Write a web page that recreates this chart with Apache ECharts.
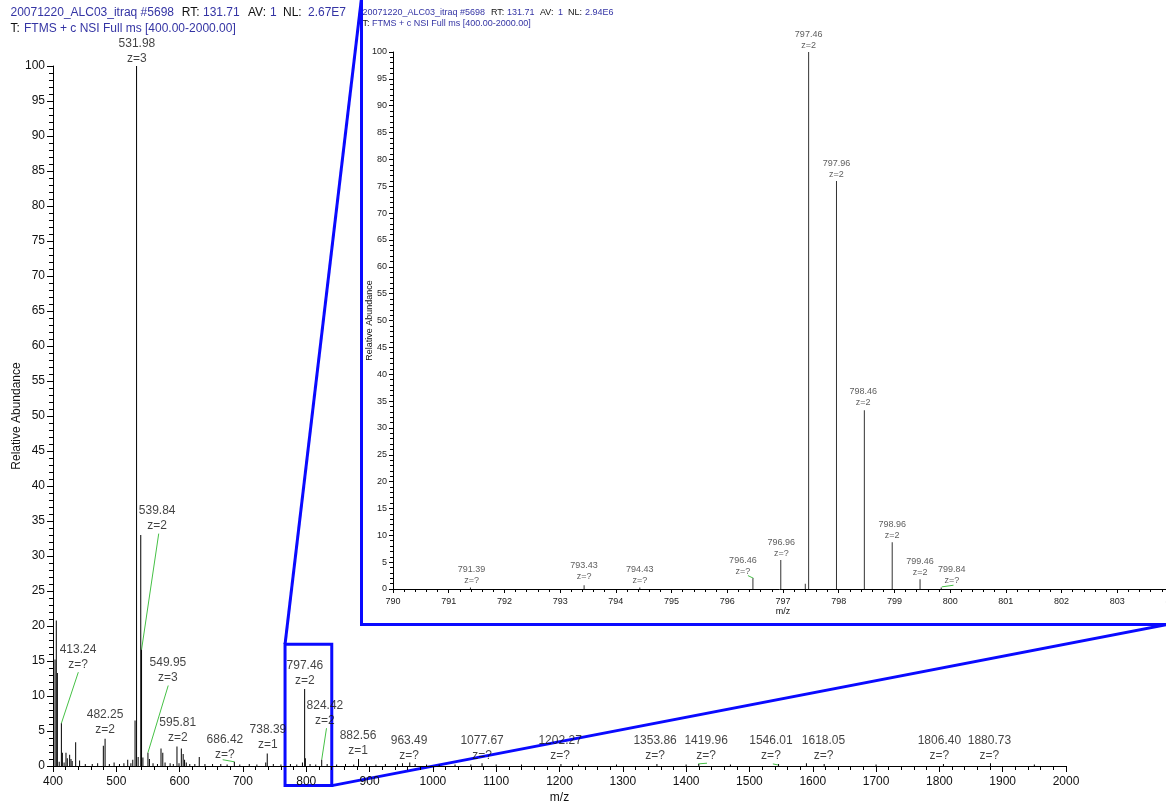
<!DOCTYPE html>
<html>
<head>
<meta charset="utf-8">
<script src="https://cdn.jsdelivr.net/npm/echarts@6/dist/echarts.min.js"></script>
<style>
  html, body { margin: 0; padding: 0; background: #fff; }
  #chart { width: 1166px; height: 806px; }
</style>
</head>
<body>
<div id="chart"></div>
<script>
// full scan peaks (m/z, relative abundance)
const mainMz = [403.2, 405.2, 406.9, 409.8, 413.24, 414.8, 417.5, 420.5, 422.6, 426.3, 428.4, 430.3, 435.8, 442.0,
  451.0, 462.0, 470.5, 479.5, 482.25, 489.0, 496.5, 505.0, 512.0, 518.0, 523.0, 526.0, 529.6, 531.98, 534.5,
  538.6, 539.84, 542.0, 549.95, 552.3, 558.0, 565.0, 570.6, 573.4, 577.0, 585.0, 590.0, 595.81, 599.0, 602.7,
  605.6, 607.8, 610.5, 616.0, 624.0, 631.0, 640.0, 652.0, 665.0, 675.0, 686.42, 695.0, 710.0, 722.0, 736.0,
  738.39, 748.0, 760.0, 775.0, 785.0, 794.0, 797.46, 798.6, 806.0, 815.0, 824.42, 833.0, 848.0, 862.0, 875.0,
  882.56, 895.0, 910.0, 925.0, 944.0, 952.0, 963.49, 972.0, 990.0, 1010.0, 1035.0, 1060.0, 1077.67, 1100.0,
  1140.0, 1202.27, 1230.0, 1290.0, 1353.86, 1400.0, 1419.96, 1470.0, 1546.01, 1590.0, 1618.05, 1700.0,
  1806.40, 1880.73, 1950.0];
const mainAb = [15.2, 20.8, 13.3, 0.6, 6.1, 1.9, 0.5, 1.9, 1.1, 1.6, 1.0, 0.7, 3.4, 0.8,
  0.3, 0.3, 0.4, 2.9, 3.9, 0.3, 0.5, 0.3, 0.4, 0.9, 0.4, 0.9, 6.5, 100, 1.3,
  33.0, 16.6, 1.2, 1.9, 1.0, 0.4, 0.3, 2.5, 1.9, 0.5, 0.4, 0.3, 2.8, 0.4, 2.5,
  1.7, 0.9, 0.5, 0.3, 0.3, 1.3, 0.3, 0.3, 0.3, 0.2, 0.6, 0.2, 0.3, 0.2, 0.5,
  1.8, 0.3, 0.2, 0.3, 0.2, 0.5, 11.0, 1.1, 0.3, 0.2, 0.9, 0.3, 0.2, 0.3, 0.2,
  1.0, 0.3, 0.2, 0.3, 0.3, 0.4, 0.5, 0.3, 0.2, 0.2, 0.2, 0.2, 0.4, 0.2,
  0.2, 0.3, 0.2, 0.2, 0.3, 0.2, 0.3, 0.2, 0.3, 0.4, 0.3, 0.2,
  0.3, 0.4, 0.2];

// full scan annotations
const mainLabelMz = ['531.98', '539.84', '413.24', '482.25', '549.95', '595.81', '686.42', '738.39', '797.46',
  '824.42', '882.56', '963.49', '1077.67', '1202.27', '1353.86', '1419.96', '1546.01', '1618.05', '1806.40', '1880.73'];
const mainLabelZ = ['3', '2', '?', '2', '3', '2', '?', '1', '2', '2', '1', '?', '?', '?', '?', '?', '?', '?', '?', '?'];
const mainLabelAtX = [532.5, 564.5, 439.5, 482.25, 581.5, 597.0, 671.5, 739.5, 797.9, 829.5, 881.8, 962.4, 1077.7,
  1201.0, 1351.0, 1431.6, 1534.0, 1617.0, 1800.0, 1879.0];
const mainLabelAtY = [99.9, 33.2, 13.4, 4.0, 11.5, 2.9, 0.45, 1.9, 11.0, 5.4, 1.05, 0.4, 0.4, 0.4, 0.3, 0.3, 0.3,
  0.3, 0.3, 0.3];
// leader lines: from label to peak
const mainLeaderFrom = [[440, 13.4], [567, 33.2], [582, 11.5], [668, 0.9], [832, 5.4], [1419, 0.3], [1537, 0.3]];
const mainLeaderTo = [[413.24, 6.1], [539.84, 16.6], [549.95, 1.9], [686.42, 0.6], [824.42, 0.9], [1433, 0.4], [1545, 0.15]];

// zoomed scan peaks
const zoomMz = [791.39, 793.43, 794.43, 796.46, 796.96, 797.40, 797.46, 797.96, 798.46, 798.96, 799.46, 799.84];
const zoomAb = [0.3, 0.7, 0.3, 2.0, 5.4, 1.0, 100, 76.0, 33.3, 8.7, 1.8, 0.3];
const zoomLabelMz = ['791.39', '793.43', '794.43', '796.46', '796.96', '797.46', '797.96', '798.46', '798.96', '799.46', '799.84'];
const zoomLabelZ = ['?', '?', '?', '?', '?', '2', '2', '2', '2', '2', '?'];
const zoomLabelAtX = [791.41, 793.43, 794.43, 796.28, 796.97, 797.46, 797.96, 798.44, 798.96, 799.46, 800.03];
const zoomLabelAtY = [0.5, 1.2, 0.5, 2.2, 5.5, 100, 76.1, 33.6, 8.9, 1.9, 0.5];
const zoomLeaderFrom = [[796.37, 2.5], [799.85, 0.4]];
const zoomLeaderTo = [[796.47, 2.0], [800.06, 0.7]];

// callout box on the full scan (m/z, abundance corners)
const boxMz = [766.5, 840.3];
const boxAb = [-2.8, 17.4];

const FONT = 'Arial, "Liberation Sans", sans-serif';
const BLUE = '#3434a4';
const GREEN = '#45c045';
const FRAME = '#0a0aff';

const pairs = (xs, ys) => xs.map((x, i) => [x, ys[i]]);

const chart = echarts.init(document.getElementById('chart'));

function valueAxis(gridIndex, min, max, interval, fs, margin, opts) {
  return Object.assign({
    type: 'value', gridIndex, min, max, interval,
    axisLine: { show: true, onZero: false, lineStyle: { color: '#000', width: 1 } },
    axisTick: { show: true, length: fs > 10 ? 6 : 4, lineStyle: { color: '#000' } },
    minorTick: { show: true, splitNumber: 5, length: fs > 10 ? 4 : 3, lineStyle: { color: '#000' } },
    splitLine: { show: false },
    axisLabel: { color: fs > 10 ? '#111' : '#222', fontSize: fs, fontFamily: FONT, margin, formatter: v => String(v) },
    nameLocation: 'middle',
    nameMoveOverlap: false,
    nameTextStyle: { color: '#111', fontSize: fs, fontFamily: FONT }
  }, opts);
}

chart.setOption({
  animation: false,
  grid: [
    { left: 53, top: 66, width: 1013, height: 700, outerBoundsMode: 'none', containLabel: false },
    { left: 393, top: 52, width: 780, height: 537, outerBoundsMode: 'none', containLabel: false }
  ],
  xAxis: [
    valueAxis(0, 400, 2000, 100, 12, 10, { name: 'm/z', nameGap: 26 }),
    valueAxis(1, 790, 804, 1, 9, 8, { name: 'm/z', nameGap: 18 })
  ],
  yAxis: [
    valueAxis(0, 0, 100, 5, 12, 8, { name: 'Relative Abundance', nameGap: 30 }),
    valueAxis(1, 0, 100, 5, 9, 6, { name: 'Relative Abundance', nameGap: 19 })
  ],
  series: [
    {
      type: 'bar', xAxisIndex: 0, yAxisIndex: 0, barWidth: 1, silent: true,
      itemStyle: { color: '#000' },
      data: pairs(mainMz, mainAb)
    },
    {
      type: 'scatter', xAxisIndex: 0, yAxisIndex: 0, symbolSize: 1, silent: true, clip: false,
      itemStyle: { color: 'rgba(0,0,0,0)' },
      label: { show: true, position: 'top', distance: 0, formatter: '{b}', color: '#111',
        fontSize: 12, lineHeight: 15, fontFamily: FONT },
      data: mainLabelMz.map((m, i) => ({ name: m + '\nz=' + mainLabelZ[i], value: [mainLabelAtX[i], mainLabelAtY[i]] }))
    },
    {
      type: 'lines', coordinateSystem: 'cartesian2d', xAxisIndex: 0, yAxisIndex: 0, silent: true,
      lineStyle: { color: GREEN, width: 1, opacity: 1 },
      data: mainLeaderFrom.map((p, i) => ({ coords: [p, mainLeaderTo[i]] }))
    },
    {
      type: 'bar', xAxisIndex: 1, yAxisIndex: 1, barWidth: 1, silent: true,
      itemStyle: { color: '#333' },
      data: pairs(zoomMz, zoomAb)
    },
    {
      type: 'scatter', xAxisIndex: 1, yAxisIndex: 1, symbolSize: 1, silent: true, clip: false,
      itemStyle: { color: 'rgba(0,0,0,0)' },
      label: { show: true, position: 'top', distance: 0, formatter: '{b}', color: '#333',
        fontSize: 9, lineHeight: 11, fontFamily: FONT },
      data: zoomLabelMz.map((m, i) => ({ name: m + '\nz=' + zoomLabelZ[i], value: [zoomLabelAtX[i], zoomLabelAtY[i]] }))
    },
    {
      type: 'lines', coordinateSystem: 'cartesian2d', xAxisIndex: 1, yAxisIndex: 1, silent: true,
      lineStyle: { color: GREEN, width: 1, opacity: 1 },
      data: zoomLeaderFrom.map((p, i) => ({ coords: [p, zoomLeaderTo[i]] }))
    }
  ]
});

// header lines, each piece placed at its own x
function header(parts, y, size) {
  return parts.map(p => ({
    type: 'text', x: p[0], y: y, silent: true,
    style: { text: p[1], fill: p[2] ? BLUE : '#111', font: size + 'px ' + FONT, textVerticalAlign: 'middle' }
  }));
}

const tl = chart.convertToPixel({ gridIndex: 0 }, [boxMz[0], boxAb[1]]);
const br = chart.convertToPixel({ gridIndex: 0 }, [boxMz[1], boxAb[0]]);
const frameLeft = 361.5, frameBottom = 624.5;

chart.setOption({
  graphic: [].concat(
    header([[10.5, '20071220_ALC03_itraq #5698', 1], [181.7, 'RT:', 0], [203, '131.71', 1], [248, 'AV:', 0],
      [270, '1', 1], [283, 'NL:', 0], [308, '2.67E7', 1]], 13, 12),
    header([[10.5, 'T:', 0], [24, 'FTMS + c NSI Full ms [400.00-2000.00]', 1]], 29, 12),
    header([[362.5, '20071220_ALC03_itraq #5698', 1], [491, 'RT:', 0], [507, '131.71', 1], [540, 'AV:', 0],
      [558, '1', 1], [568, 'NL:', 0], [585, '2.94E6', 1]], 12.7, 9),
    header([[362.5, 'T:', 0], [372, 'FTMS + c NSI Full ms [400.00-2000.00]', 1]], 24, 9),
    [
      { type: 'rect', silent: true, shape: { x: frameLeft, y: -3, width: 830, height: frameBottom + 3 },
        style: { fill: 'none', stroke: FRAME, lineWidth: 3 } },
      { type: 'rect', silent: true, shape: { x: tl[0], y: tl[1], width: br[0] - tl[0], height: br[1] - tl[1] },
        style: { fill: 'none', stroke: FRAME, lineWidth: 3 } },
      { type: 'line', silent: true, shape: { x1: tl[0], y1: tl[1], x2: frameLeft, y2: -2 },
        style: { stroke: FRAME, lineWidth: 3 } },
      { type: 'line', silent: true, shape: { x1: br[0], y1: br[1], x2: 1167, y2: frameBottom },
        style: { stroke: FRAME, lineWidth: 3 } }
    ]
  )
});
</script>
</body>
</html>
